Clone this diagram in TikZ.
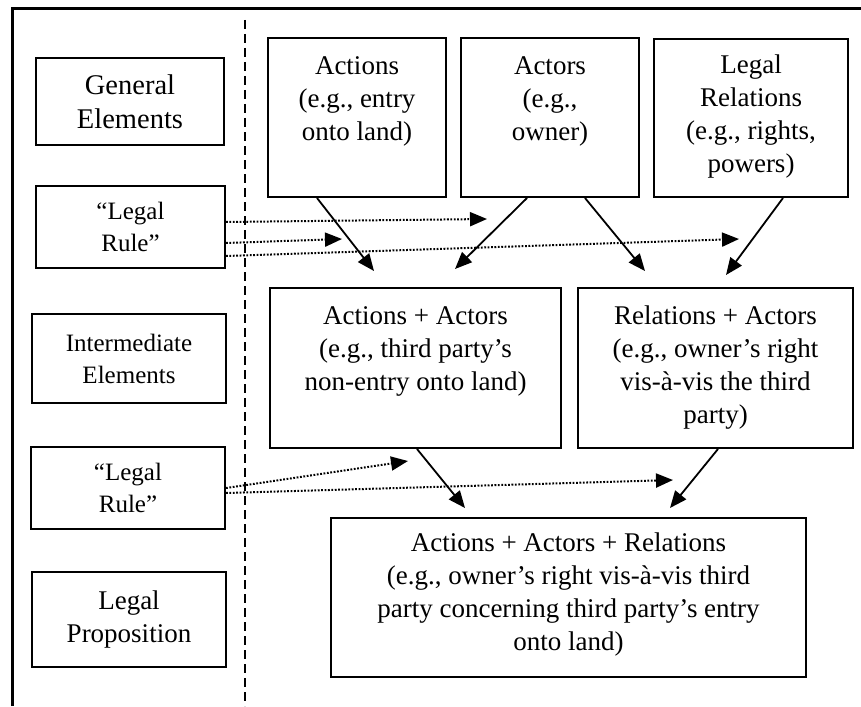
\documentclass[tikz,border=0pt]{standalone}
\usepackage{fontspec}
\setmainfont{Liberation Serif}
\usetikzlibrary{arrows.meta}

\newcommand\mainsz{\fontsize{27}{33}\selectfont}
\newcommand\bigsz{\fontsize{28.5}{34}\selectfont}
\newcommand\smallsz{\fontsize{25}{32}\selectfont}

\begin{document}
\begin{tikzpicture}[x=1pt,y=-1pt,
  box/.style={draw, line width=2pt, inner sep=0pt, align=center},
  lbl/.style={align=center, inner sep=0pt, anchor=north, font=\mainsz},
  solidarrow/.style={line width=1.8pt, -{Triangle[length=17pt,width=14pt]}},
  dotarrow/.style={line width=2pt, dash pattern=on 1.8pt off 1.6pt, -{Triangle[length=17pt,width=14pt]}},
  frameline/.style={line width=3pt},
  divider/.style={line width=1.8pt, dash pattern=on 9pt off 5pt}]

\useasboundingbox (0,0) rectangle (861,706);

% outer frame (open towards the right and bottom)
\draw[frameline] (12,706) -- (12,9) -- (861,9);

% dashed divider between the level column and the diagram
\coordinate (divtop) at (245,20);
\coordinate (divbot) at (245,706);
\draw[divider] (divtop) -- (divbot);

% level labels on the left
\node[box, font=\bigsz, minimum width=188, minimum height=87] (general) at (130,101.5) {General\\Elements};
\node[box, font=\smallsz, minimum width=189, minimum height=82] (rule1) at (130.5,227) {“Legal\\Rule”};
\node[box, font=\smallsz, minimum width=194, minimum height=89] (inter) at (129,358.5) {Intermediate\\Elements};
\node[box, font=\smallsz, minimum width=194, minimum height=82] (rule2) at (128,488) {“Legal\\Rule”};
\node[box, font=\mainsz, minimum width=194, minimum height=95] (prop) at (129,619.5) {Legal\\Proposition};

% general elements
\node[box, minimum width=178, minimum height=159] (actions) at (357,117.5) {};
\node[box, minimum width=178, minimum height=159] (actors) at (550,117.5) {};
\node[box, minimum width=194, minimum height=158] (relations) at (751,118) {};
\node[lbl] (actionsT) at ([yshift=-19pt]actions.north) {Actions\\(e.g., entry\\onto land)};
\node[lbl] (actorsT) at ([yshift=-19pt]actors.north) {Actors\\(e.g.,\\owner)};
\node[lbl] (relationsT) at ([yshift=-17pt]relations.north) {Legal\\Relations\\(e.g., rights,\\powers)};

% intermediate elements
\node[box, minimum width=291, minimum height=160] (actact) at (415.5,368) {};
\node[box, minimum width=275, minimum height=160] (relact) at (715.5,368) {};
\node[lbl] (actactT) at ([yshift=-19pt]actact.north) {Actions + Actors\\(e.g., third party’s\\non-entry onto land)};
\node[lbl] (relactT) at ([yshift=-19pt]relact.north) {Relations + Actors\\(e.g., owner’s right\\vis-à-vis the third\\party)};

% legal proposition
\node[box, minimum width=475, minimum height=159] (full) at (568.5,597.5) {};
\node[lbl] (fullT) at ([yshift=-16pt]full.north) {Actions + Actors + Relations\\(e.g., owner’s right vis-à-vis third\\party concerning third party’s entry\\onto land)};

% arrow tips
\coordinate (t1) at (374,271);
\coordinate (t2) at (455,269);
\coordinate (t3) at (645,271);
\coordinate (t4) at (726,275);
\coordinate (t5) at (465,508);
\coordinate (t6) at (670,508);
\coordinate (d1) at (487,219);
\coordinate (d2) at (342,239);
\coordinate (d3) at (739,239);
\coordinate (d4) at (408,461);
\coordinate (d5) at (673,480);

% combination arrows
\draw[solidarrow] ([xshift=50pt]actions.south west) -- (t1);
\draw[solidarrow] ([xshift=67pt]actors.south west) -- (t2);
\draw[solidarrow] ([xshift=125pt]actors.south west) -- (t3);
\draw[solidarrow] ([xshift=130pt]relations.south west) -- (t4);
\draw[solidarrow] ([xshift=148pt]actact.south west) -- (t5);
\draw[solidarrow] ([xshift=141pt]relact.south west) -- (t6);

% legal rules acting on the combinations
\draw[dotarrow] ([yshift=5pt]rule1.east) -- (d1);
\draw[dotarrow] ([yshift=-16pt]rule1.east) -- (d2);
\draw[dotarrow] ([yshift=-29pt]rule1.east) -- (d3);
\draw[dotarrow] (rule2.east) -- (d4);
\draw[dotarrow] ([yshift=-5pt]rule2.east) -- (d5);

\end{tikzpicture}
\end{document}
